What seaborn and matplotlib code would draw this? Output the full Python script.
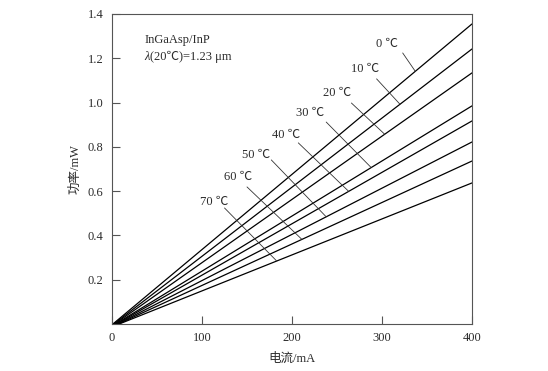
import numpy as np
import pandas as pd
import matplotlib
matplotlib.use("Agg")
import matplotlib.pyplot as plt
import seaborn as sns

# temperature series (degC), threshold current (mA) and power at 400 mA (mW)
temps = [0, 10, 20, 30, 40, 50, 60, 70]
threshold_ma = [1, 2, 3, 4, 5, 6, 7, 8]
end_current_ma = 400
power_at_end = [1.355, 1.242, 1.134, 0.985, 0.917, 0.822, 0.736, 0.637]

x_ticks = [0, 100, 200, 300, 400]
y_ticks = [0.2, 0.4, 0.6, 0.8, 1.0, 1.2, 1.4]

# label text position (mA, mW) and where the leader touches its line (mA)
label_xy = [(305, 1.265), (281, 1.152), (250, 1.043), (220, 0.953),
            (193, 0.854), (160, 0.763), (140, 0.664), (114, 0.551)]
leader_start = [(323, 1.224), (294, 1.107), (266, 0.998), (238, 0.912),
                (207, 0.818), (177, 0.741), (150, 0.619), (125, 0.524)]
leader_end_x = [337, 320, 303, 288, 263, 238, 211, 183]

rows = []
for t, th, p in zip(temps, threshold_ma, power_at_end):
    rows.append({"temp": t, "current": th, "power": 0.0})
    rows.append({"temp": t, "current": end_current_ma, "power": p})
df = pd.DataFrame(rows)

sns.set_theme(style="ticks")
serif = ["Liberation Serif", "Noto Sans CJK SC", "DejaVu Sans"]
plt.rcParams["font.family"] = serif
text_color = "#2b2b2b"

fig = plt.figure(figsize=(5.48, 3.71), dpi=100)
ax = fig.add_axes([0.2044, 0.1267, 0.6569, 0.8356])

sns.lineplot(data=df, x="current", y="power", units="temp", estimator=None,
             color="black", linewidth=0.9, ax=ax, legend=False)

ax.set_xlim(0, 400)
ax.set_ylim(0, 1.4)
ax.set_xticks(x_ticks)
ax.set_yticks(y_ticks)
ax.set_xticklabels([str(v) for v in x_ticks])
ax.set_yticklabels([f"{v:.1f}" for v in y_ticks])
ax.tick_params(direction="in", length=6, width=0.8, colors="#555555",
               labelcolor=text_color, labelsize=9, pad=6)
for s in ax.spines.values():
    s.set_color("#555555")
    s.set_linewidth(0.8)

ax.set_xlabel("电流/mA", fontsize=9, color=text_color, labelpad=6, family=serif)
ax.set_ylabel("功率/mW", fontsize=9, color=text_color, labelpad=5, family=serif)

ax.text(36, 1.283, "InGaAsp/InP", fontsize=9, color=text_color, va="center")
ax.text(36, 1.206, "λ", fontsize=9, color=text_color, va="center", style="italic")
ax.text(42, 1.206, "(20℃)=1.23 μm", fontsize=9, color=text_color, va="center")

for t, th, p, (tx, ty), (sx, sy), ex in zip(temps, threshold_ma, power_at_end,
                                            label_xy, leader_start, leader_end_x):
    ey = np.interp(ex, [th, end_current_ma], [0.0, p])
    ax.plot([sx, ex], [sy, ey], color="#333333", linewidth=0.6)
    ax.text(tx, ty, f"{t} ℃", fontsize=9, color=text_color,
            ha="center", va="center")

fig.savefig("out.png", dpi=100)
